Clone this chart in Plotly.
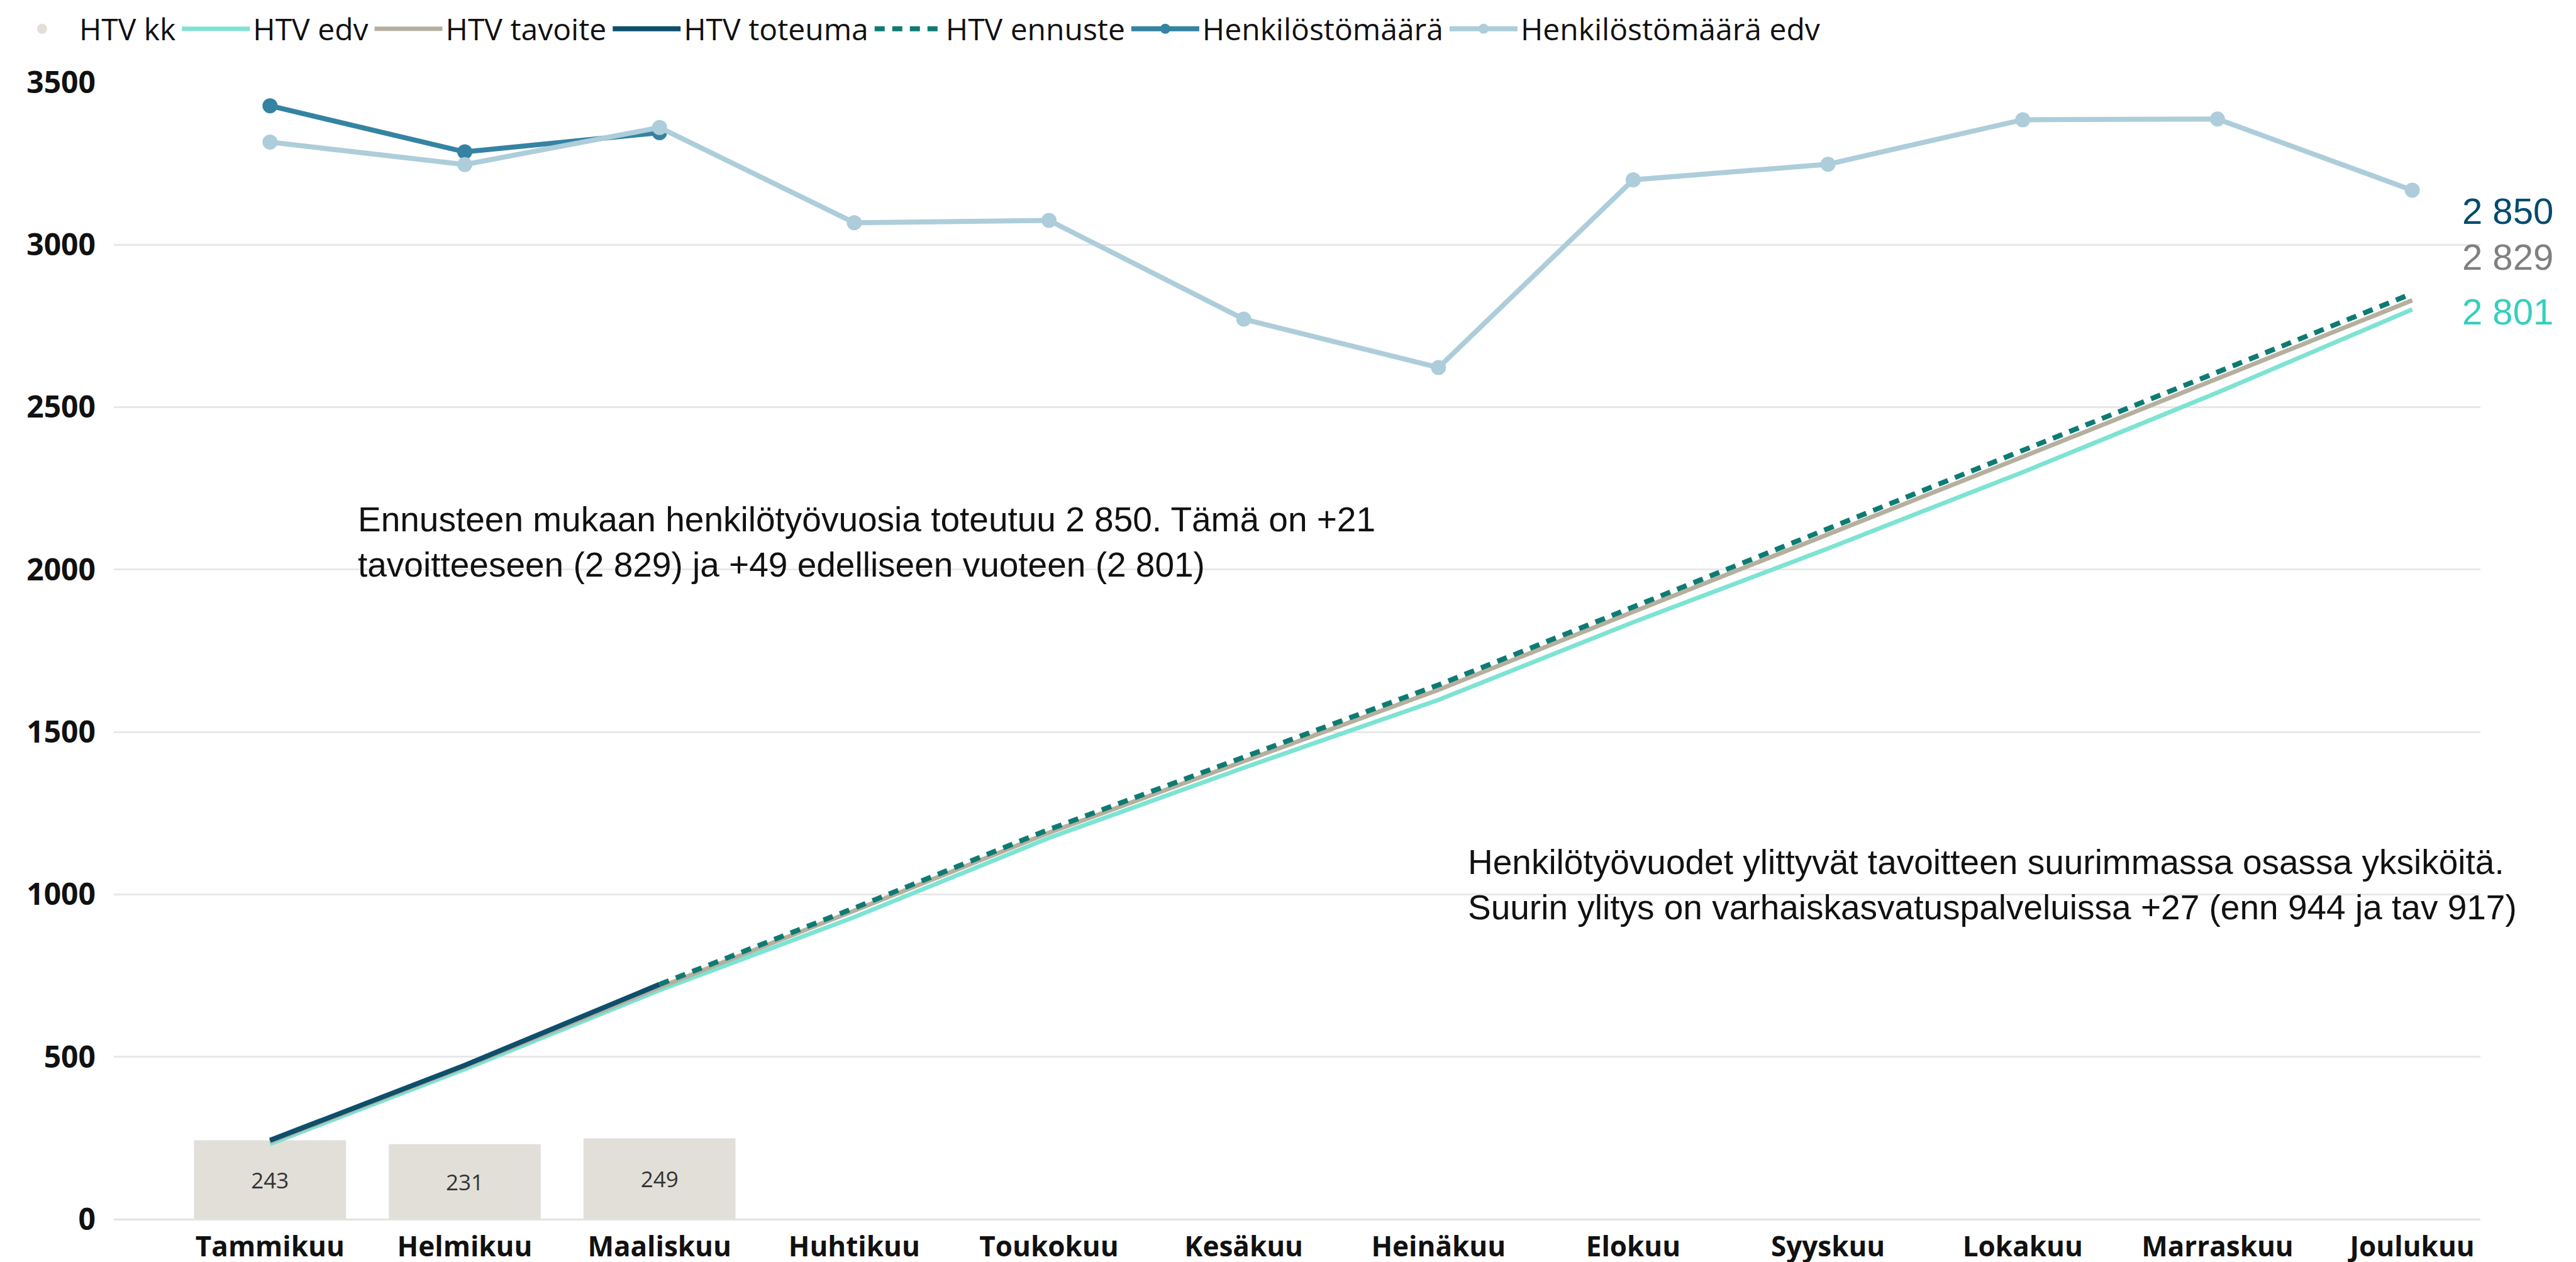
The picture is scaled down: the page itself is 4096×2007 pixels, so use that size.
import plotly.graph_objects as go

months = ["Tammikuu", "Helmikuu", "Maaliskuu", "Huhtikuu", "Toukokuu", "Kesäkuu",
          "Heinäkuu", "Elokuu", "Syyskuu", "Lokakuu", "Marraskuu", "Joulukuu"]

htv_kk = [243, 231, 249]
htv_edv = [232, 462, 705, 930, 1174, 1390, 1599, 1838, 2065, 2300, 2545, 2801]
htv_tavoite = [238, 470, 714, 950, 1190, 1410, 1630, 1870, 2108, 2347, 2588, 2829]
htv_toteuma = [243, 474, 723]
htv_ennuste = [None, None, 723, 958, 1200, 1422, 1645, 1885, 2125, 2365, 2608, 2850]
henkilosto = [3428, 3286, 3345]
henkilosto_edv = [3316, 3247, 3361, 3068, 3075, 2771, 2622, 3200, 3248, 3385, 3387, 3168]

end_labels = ["2 850", "2 829", "2 801"]
end_values = [2850, 2829, 2801]

note1 = "Ennusteen mukaan henkilötyövuosia toteutuu 2 850. Tämä on +21<br>tavoitteeseen (2 829) ja +49 edelliseen vuoteen (2 801)"
note2 = "Henkilötyövuodet ylittyvät tavoitteen suurimmassa osassa yksiköitä.<br>Suurin ylitys on varhaiskasvatuspalveluissa +27 (enn 944 ja tav 917)"

C_KK = "#E1DFD8"
C_EDV = "#7DE3D3"
C_TAV = "#B5B09E"
C_TOT = "#0E4F6C"
C_ENN = "#0E7B73"
C_HEN = "#3583A3"
C_HEN_EDV = "#ADCDDA"

AX_FONT = "Segoe UI, Open Sans, sans-serif"
TXT_FONT = "Liberation Sans, Arial, sans-serif"

fig = go.Figure()

fig.add_trace(go.Bar(
    x=months[:len(htv_kk)], y=htv_kk, name="HTV kk", marker_color=C_KK,
    texttemplate="%{y}", textposition="inside", insidetextanchor="middle",
    textangle=0, textfont=dict(size=35, color="#333333", family=AX_FONT),
    showlegend=False, hoverinfo="skip"))
# legend entry for bars (circle symbol as in reference)
fig.add_trace(go.Scatter(x=[None], y=[None], mode="markers", name="HTV kk",
                         marker=dict(symbol="circle", size=26, color=C_KK)))

fig.add_trace(go.Scatter(x=months, y=htv_edv, name="HTV edv", mode="lines",
                         line=dict(color=C_EDV, width=7)))
fig.add_trace(go.Scatter(x=months, y=htv_tavoite, name="HTV tavoite", mode="lines",
                         line=dict(color=C_TAV, width=7)))
fig.add_trace(go.Scatter(x=months[:len(htv_toteuma)], y=htv_toteuma, name="HTV toteuma",
                         mode="lines", line=dict(color=C_TOT, width=8)))
fig.add_trace(go.Scatter(x=months, y=htv_ennuste, name="HTV ennuste", mode="lines",
                         line=dict(color=C_ENN, width=8, dash="16px,12px")))
fig.add_trace(go.Scatter(x=months[:len(henkilosto)], y=henkilosto, name="Henkilöstömäärä",
                         mode="lines+markers", line=dict(color=C_HEN, width=8),
                         marker=dict(size=24, color=C_HEN)))
fig.add_trace(go.Scatter(x=months, y=henkilosto_edv, name="Henkilöstömäärä edv",
                         mode="lines+markers", line=dict(color=C_HEN_EDV, width=8),
                         marker=dict(size=24, color=C_HEN_EDV)))

annotations = [
    dict(x=0.443, y=2084, xref="x", yref="y", text=note1, showarrow=False,
         xanchor="left", yanchor="middle", align="left",
         font=dict(family=TXT_FONT, size=55, color="#111111")),
    dict(x=6.145, y=1030, xref="x", yref="y", text=note2, showarrow=False,
         xanchor="left", yanchor="middle", align="left",
         font=dict(family=TXT_FONT, size=55, color="#111111")),
]
end_colors = ["#004B6E", "#808080", "#36CFBD"]
end_y = [3104, 2962, 2794]
for lab, col, yy in zip(end_labels, end_colors, end_y):
    annotations.append(dict(x=11.25, y=yy, xref="x", yref="y", text=lab, showarrow=False,
                            xanchor="left", yanchor="middle",
                            font=dict(family=TXT_FONT, size=58, color=col)))

fig.update_layout(
    width=4096, height=2007,
    margin=dict(l=173, r=160, t=123, b=76, autoexpand=False),
    paper_bgcolor="white", plot_bgcolor="white",
    bargap=0.22,
    showlegend=True,
    legend=dict(orientation="h", x=-0.046, y=1.047, xanchor="left", yanchor="middle",
                font=dict(family=AX_FONT, size=48, color="#111111"),
                itemwidth=108, tracegroupgap=0, bgcolor="rgba(0,0,0,0)"),
    annotations=annotations,
)
fig.update_xaxes(type="category", range=[-0.802, 11.35], showgrid=False, showline=False,
                 zeroline=False, ticks="", ticklabelstandoff=14, automargin=False,
                 tickfont=dict(family=AX_FONT, size=44, color="#111111", weight="bold"))
fig.update_yaxes(range=[0, 3500], tickvals=[0, 500, 1000, 1500, 2000, 2500, 3000, 3500],
                 showgrid=True, gridcolor="#E8E8E8", gridwidth=3,
                 zeroline=True, zerolinecolor="#E3E3E3", zerolinewidth=3,
                 showline=False, ticks="", ticklabelstandoff=28, automargin=False,
                 tickfont=dict(family=AX_FONT, size=48, color="#111111", weight="bold"))

fig.write_html("out.html")
